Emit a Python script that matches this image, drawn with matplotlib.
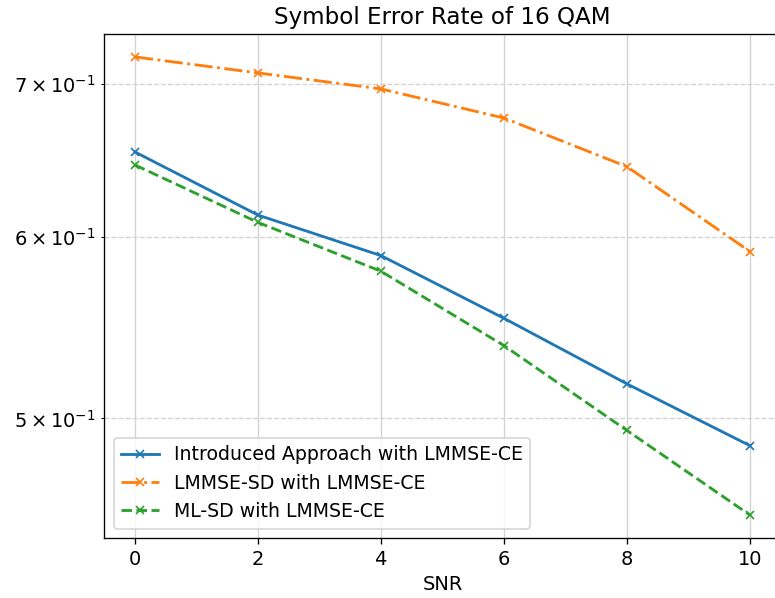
import matplotlib
matplotlib.use('Agg')
import matplotlib.pyplot as plt

snr = [0, 2, 4, 6, 8, 10]
ser_introduced = [0.6537, 0.6135, 0.589, 0.553, 0.5177, 0.4865]
ser_lmmse_sd = [0.7193, 0.7078, 0.6965, 0.6764, 0.6441, 0.5914]
ser_ml_sd = [0.6452, 0.609, 0.5798, 0.538, 0.494, 0.4537]

plt.rcParams['font.size'] = 11.6

fig = plt.figure(figsize=(775 / 120, 598 / 120), dpi=120)
ax = fig.add_axes([104.25 / 775, 60 / 598, 676.5 / 775, 504 / 598])

ax.plot(snr, ser_introduced, marker='x', markersize=5, lw=1.7, linestyle='-', label='Introduced Approach with LMMSE-CE')
ax.plot(snr, ser_lmmse_sd, marker='x', markersize=5, lw=1.7, linestyle='-.', label='LMMSE-SD with LMMSE-CE')
ax.plot(snr, ser_ml_sd, marker='x', markersize=5, lw=1.7, linestyle='--', label='ML-SD with LMMSE-CE')

ax.set_yscale('log')
ax.set_xticks(snr)
ax.set_xlim(-0.5, 10.5)
ax.grid(True, which='major', color='lightgray')
ax.grid(True, which='minor', axis='y', linestyle='--', color='lightgray')
ax.set_axisbelow(True)

ax.set_title('Symbol Error Rate of 16 QAM', fontsize=13.8)
ax.set_xlabel('SNR')
ax.legend(loc='lower left', fontsize=11.3)

fig.savefig('out.png', dpi=120)
